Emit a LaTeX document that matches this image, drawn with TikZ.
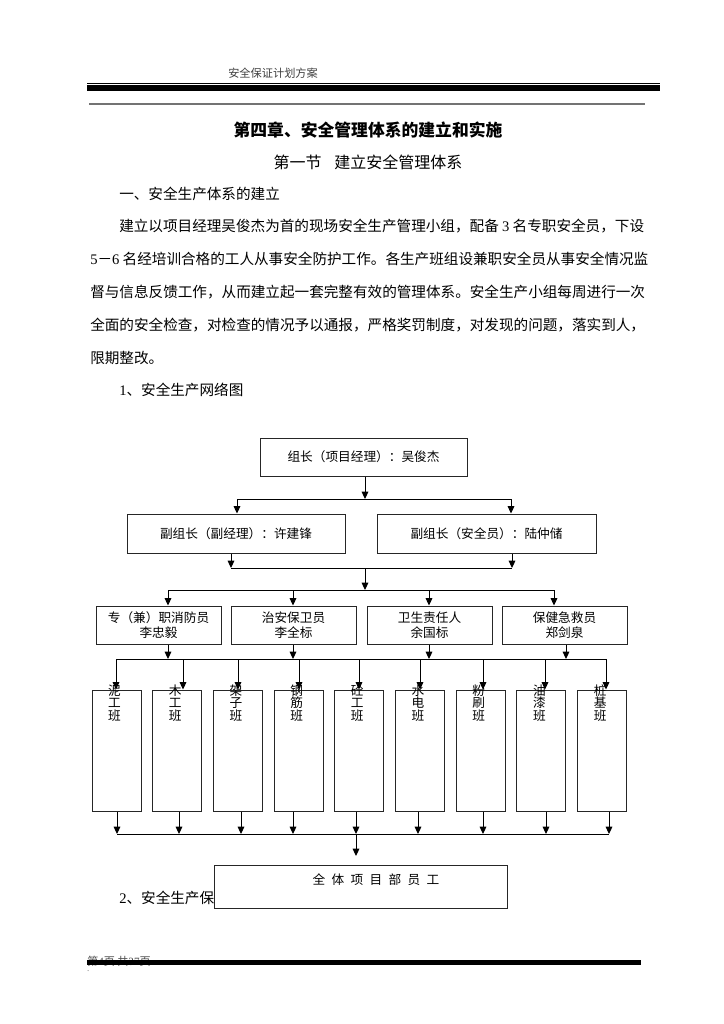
\documentclass[tikz,border=0pt]{standalone}
\usepackage{fontspec}
\setmainfont{Liberation Serif}
\newfontfamily\cjk{Noto Sans CJK SC}
\usetikzlibrary{arrows.meta}
\newcommand\lat[1]{{\rmfamily #1}}
\newcommand\boxnode[6]{\node[box, minimum width={(#4-#2)*0.75pt}, minimum height={(#5-#3)*0.75pt}] (#1) at ({(#2+#4)/2},{(#3+#5)/2}) {#6};}
\tikzset{
  box/.style={draw=black!85, line width=0.75pt, fill=white, inner sep=0pt, align=center,
    font=\cjk\fontsize{9.5}{11.3}\selectfont},
  arr/.style={-{Triangle[length=5.5pt,width=5pt]}, line width=0.75pt},
  ln/.style={line width=0.75pt},
  body/.style={anchor=west, inner sep=0pt, font=\cjk\fontsize{10.95}{13}\selectfont},
  vtext/.style={inner sep=0pt, align=center, font=\cjk\fontsize{9.5}{9.4}\selectfont}
}
\begin{document}
\begin{tikzpicture}[x=0.75pt,y=-0.75pt]
\useasboundingbox (0,0) rectangle (724,1024);
\fill[white] (0,0) rectangle (724,1024);
% header
\node[anchor=west, inner sep=0pt, text=black!75, font=\cjk\fontsize{8.4}{10}\selectfont] (hdr) at (228,73) {安全保证计划方案};
\fill (87,83) rectangle (660,84);
\fill (87,85.5) rectangle (660,91);
\fill[black!55] (89,103) rectangle (645,105);
% titles
\node[inner sep=0pt, font=\cjk\bfseries\fontsize{12.6}{14}\selectfont] (title) at (368,130) {第四章、安全管理体系的建立和实施};
\node[inner sep=0pt, font=\cjk\fontsize{12}{14}\selectfont] (sec) at (368,162) {第一节\hspace{0.8em}建立安全管理体系};
\node[body] (l0) at (119,194) {一、安全生产体系的建立};
\node[body] (p1) at (119,226) {建立以项目经理吴俊杰为首的现场安全生产管理小组，配备 \lat{3} 名专职安全员，下设};
\node[body] (p2) at (90,259) {\lat{5}－\lat{6} 名经培训合格的工人从事安全防护工作。各生产班组设兼职安全员从事安全情况监};
\node[body] (p3) at (90,292) {督与信息反馈工作，从而建立起一套完整有效的管理体系。安全生产小组每周进行一次};
\node[body] (p4) at (90,325) {全面的安全检查，对检查的情况予以通报，严格奖罚制度，对发现的问题，落实到人，};
\node[body] (p5) at (90,358) {限期整改。};
\node[body] (n1) at (119,390) {\lat{1}、安全生产网络图};
\node[body] (n2) at (119,898) {\lat{2}、安全生产保};
% diagram boxes
\boxnode{A}{260}{438}{467}{476}{组长（项目经理）：吴俊杰}
\boxnode{B}{127}{514}{345}{553}{副组长（副经理）：许建锋}
\boxnode{C}{377}{514}{596}{553}{副组长（安全员）：陆仲储}
\boxnode{r1}{96}{606}{221}{644}{专（兼）职消防员\\李忠毅}
\boxnode{r2}{231}{606}{356}{644}{治安保卫员\\李全标}
\boxnode{r3}{367}{606}{492}{644}{卫生责任人\\余国标}
\boxnode{r4}{502}{606}{627}{644}{保健急救员\\郑剑泉}
\boxnode{b1}{92}{690}{141}{811}{}
\boxnode{b2}{152.7}{690}{201.7}{811}{}
\boxnode{b3}{213.4}{690}{262.4}{811}{}
\boxnode{b4}{274.1}{690}{323.1}{811}{}
\boxnode{b5}{334.8}{690}{383.8}{811}{}
\boxnode{b6}{395.5}{690}{444.5}{811}{}
\boxnode{b7}{456.2}{690}{505.2}{811}{}
\boxnode{b8}{516.9}{690}{565.9}{811}{}
\boxnode{b9}{577.6}{690}{626.6}{811}{}
\boxnode{D}{214}{865}{507}{908}{}
\node[inner sep=0pt, font=\cjk\fontsize{9.5}{11}\selectfont] (Dt) at (376,880) {全\enspace 体\enspace 项\enspace 目\enspace 部\enspace 员\enspace 工};
% level 1 -> 2
\coordinate (jA) at (365,499);
\coordinate (hB) at (237,499);
\coordinate (hC) at (511,499);
\draw[arr] (A.south -| jA) -- (jA);
\draw[ln] (hB) -- (hC);
\draw[arr] (hB) -- (hB |- B.north);
\draw[arr] (hC) -- (hC |- C.north);
% level 2 -> 3
\coordinate (kB) at (231,568);
\coordinate (kC) at (512,568);
\coordinate (kM) at (365,568);
\coordinate (m3) at (365,590);
\draw[arr] (kB |- B.south) -- (kB);
\draw[arr] (kC |- C.south) -- (kC);
\draw[ln] (kB) -- (kC);
\draw[arr] (kM) -- (m3);
\coordinate (s1) at (168,590);
\coordinate (s2) at (293,590);
\coordinate (s3) at (429,590);
\coordinate (s4) at (554,590);
\draw[ln] (s1) -- (s4);
\draw[arr] (s1) -- (s1 |- r1.north);
\draw[arr] (s2) -- (s2 |- r2.north);
\draw[arr] (s3) -- (s3 |- r3.north);
\draw[arr] (s4) -- (s4 |- r4.north);
% level 3 -> 4
\coordinate (u1) at (168,659);
\coordinate (u2) at (293,659);
\coordinate (u3) at (429,659);
\coordinate (u4) at (566,659);
\draw[arr] (u1 |- r1.south) -- (u1);
\draw[arr] (u2 |- r2.south) -- (u2);
\draw[arr] (u3 |- r3.south) -- (u3);
\draw[arr] (u4 |- r4.south) -- (u4);
\coordinate (v1) at (116,659);
\coordinate (v2) at (183,659);
\coordinate (v3) at (238,659);
\coordinate (v4) at (299,659);
\coordinate (v5) at (359,659);
\coordinate (v6) at (420,659);
\coordinate (v7) at (483,659);
\coordinate (v8) at (545,659);
\coordinate (v9) at (606,659);
\draw[ln] (v1) -- (v9);
\foreach \i in {1,...,9} {\draw[arr] (v\i) -- (v\i |- b\i.north);}
% row 4 labels
\node[vtext] (t1) at (114.5,703) {泥\\工\\班};
\node[vtext] (t2) at (175.2,703) {木\\工\\班};
\node[vtext] (t3) at (235.9,703) {架\\子\\班};
\node[vtext] (t4) at (296.6,703) {钢\\筋\\班};
\node[vtext] (t5) at (357.3,703) {砼\\工\\班};
\node[vtext] (t6) at (418,703) {水\\电\\班};
\node[vtext] (t7) at (478.7,703) {粉\\刷\\班};
\node[vtext] (t8) at (539.4,703) {油\\漆\\班};
\node[vtext] (t9) at (600.1,703) {桩\\基\\班};
% level 4 -> 5
\coordinate (w1) at (117,834);
\coordinate (w2) at (179,834);
\coordinate (w3) at (241,834);
\coordinate (w4) at (293,834);
\coordinate (w5) at (356,834);
\coordinate (w6) at (418,834);
\coordinate (w7) at (483,834);
\coordinate (w8) at (546,834);
\coordinate (w9) at (609,834);
\foreach \i in {1,...,9} {\draw[arr] (w\i |- b\i.south) -- (w\i);}
\draw[ln] (w1) -- (w9);
\coordinate (wD) at (356,856);
\draw[arr] (w5) -- (wD);
% footer
\node[anchor=west, inner sep=0pt, text=black!70, font=\cjk\fontsize{8.3}{10}\selectfont] (ftr) at (87,961) {第\lat{4}页 共\lat{37}页};
\fill (87,959.5) rectangle (641,964.5);
\node[anchor=west, inner sep=0pt, font=\fontsize{5}{6}\selectfont] (dot) at (87,971) {.};
\end{tikzpicture}
\end{document}
